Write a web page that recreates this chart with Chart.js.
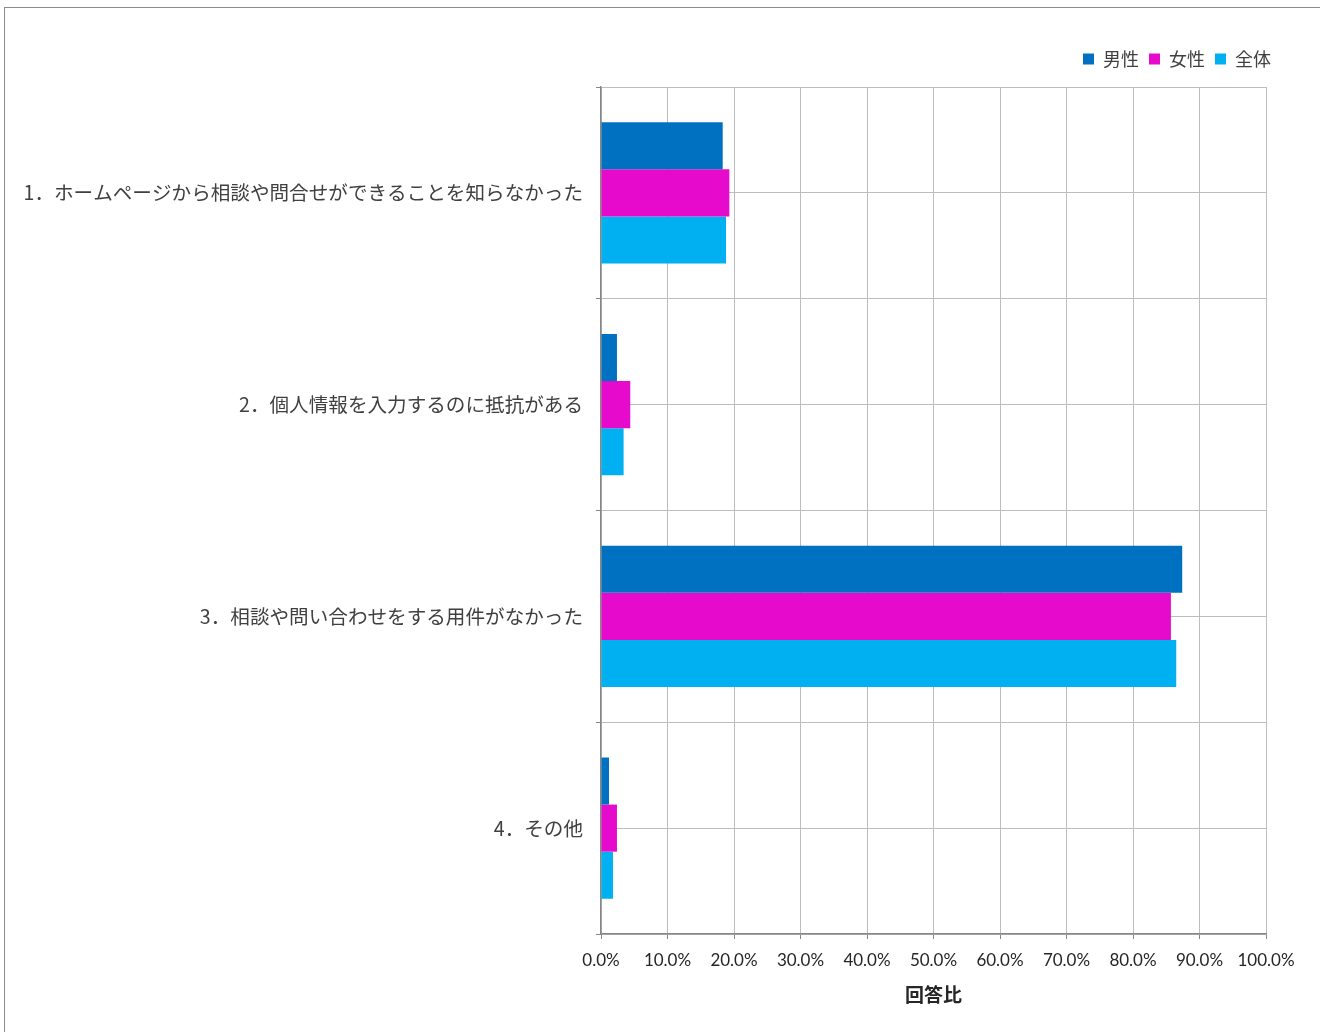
<!DOCTYPE html>
<html><head><meta charset="utf-8">
<script src="https://cdn.jsdelivr.net/npm/chart.js@4.4.1/dist/chart.umd.min.js"></script>
<style>
html,body{margin:0;padding:0;background:#fff;overflow:hidden;}
#frame{position:absolute;left:4px;top:7px;width:1400px;height:1100px;border:1px solid #8c8c8c;background:#fff;}
canvas{position:absolute;left:0;top:0;}
</style></head>
<body>
<div id="frame"><canvas id="c" width="1315" height="1024"></canvas></div>
<script>
const categories = [
  "1．ホームページから相談や問合せができることを知らなかった",
  "2．個人情報を入力するのに抵抗がある",
  "3．相談や問い合わせをする用件がなかった",
  "4．その他"
];
const seriesNames = ["男性", "女性", "全体"];
const male   = [18.3, 2.4, 87.4, 1.2];
const female = [19.3, 4.4, 85.7, 2.4];
const total  = [18.8, 3.4, 86.5, 1.8];
const xTicks = [0,10,20,30,40,50,60,70,80,90,100];
const axisTitle = "回答比";
const colors = ["#0070C0", "#E50ACC", "#00B0F0"];

const jp = "'Noto Sans CJK JP', 'Noto Sans', sans-serif";
const gridColor = "#bdbdbd";
const axisColor = "#878787";

const legendShift = {
  id: 'legendShift',
  afterLayout(chart) {
    if (chart.legend) { chart.legend.left += 15; chart.legend.right += 15; }
  }
};

new Chart(document.getElementById('c'), {
  type: 'bar',
  plugins: [legendShift],
  data: {
    labels: categories,
    datasets: [male, female, total].map((d, i) => ({
      label: seriesNames[i],
      data: d,
      backgroundColor: colors[i],
      borderWidth: 0,
      categoryPercentage: 0.667,
      barPercentage: 1.0,
      yAxisID: 'y',
      xAxisID: 'x'
    }))
  },
  options: {
    indexAxis: 'y',
    responsive: false,
    animation: false,
    devicePixelRatio: 1,
    layout: { padding: { left: 0, right: 54, top: 32, bottom: 0 } },
    plugins: {
      tooltip: { enabled: false },
      legend: {
        position: 'top',
        align: 'end',
        labels: {
          boxWidth: 11, boxHeight: 11, padding: 10,
          color: '#404040',
          font: { family: jp, size: 18 }
        }
      }
    },
    scales: {
      x: {
        type: 'linear',
        position: 'bottom',
        min: 0, max: 100,
        afterBuildTicks: (s) => { s.ticks = xTicks.map(v => ({ value: v })); },
        afterFit: (s) => { s.height = 98; },
        ticks: {
          color: '#262626',
          padding: 11,
          font: { family: "Lato, 'Open Sans', sans-serif", size: 17 },
          callback: (v) => Number(v).toFixed(1) + '%',
          maxRotation: 0
        },
        grid: { color: gridColor, lineWidth: 1, tickLength: 5, tickColor: axisColor },
        border: { display: true, color: axisColor, width: 1.5 },
        title: {
          display: true, text: axisTitle, color: '#262626',
          font: { family: jp, size: 19, weight: 'bold' },
          padding: { top: 0, bottom: 26 }
        }
      },
      xTop: {
        type: 'linear',
        position: 'top',
        display: true,
        min: 0, max: 100,
        afterFit: (s) => { s.height = 9; },
        ticks: { display: false },
        grid: { display: false },
        border: { display: false }
      },
      y: {
        type: 'category',
        position: 'left',
        offset: true,
        afterFit: (s) => { s.width = 596; },
        ticks: {
          color: '#404040',
          padding: 13,
          font: { family: jp, size: 19.6 }
        },
        grid: { offset: true, color: gridColor, lineWidth: 1, tickLength: 5, tickColor: axisColor },
        border: { display: true, color: axisColor, width: 1.5 }
      },
      yGrid: {
        type: 'linear',
        position: 'right',
        min: 0, max: 8,
        offset: false,
        ticks: { display: false, stepSize: 1 },
        afterFit: (s) => { s.width = 0; },
        grid: { offset: false, color: gridColor, lineWidth: 1, drawTicks: false },
        border: { display: false }
      }
    }
  }
});
</script>
</body></html>
